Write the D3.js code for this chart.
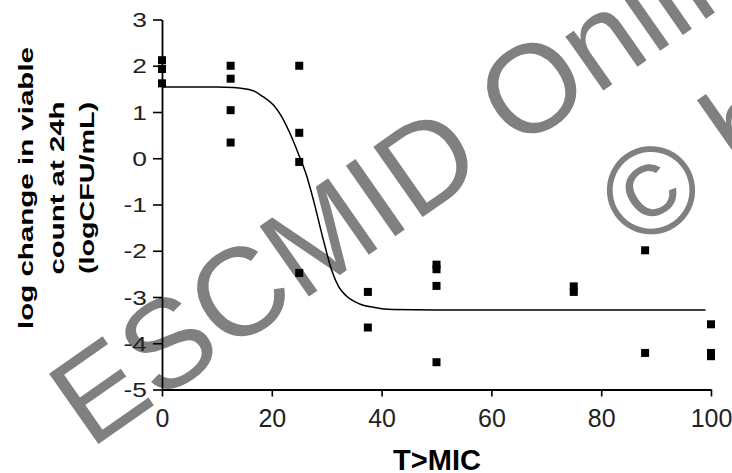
<!DOCTYPE html>
<html><head><meta charset="utf-8">
<script src="https://cdn.jsdelivr.net/npm/d3@7"></script>
<style>
html,body{margin:0;padding:0;background:#fff;}
svg{display:block;}
</style></head>
<body>
<svg id="chart" width="732" height="473"></svg>
<script>
// ---- data ----
const pointX = [0,0,0, 12.5,12.5,12.5,12.5, 25,25,25,25, 37.5,37.5, 50,50,50,50, 75,75, 88,88, 100,100,100];
const pointY = [2.12,1.93,1.62, 2.0,1.72,1.04,0.34, 2.0,0.55,-0.08,-2.48, -2.89,-3.66, -2.3,-2.4,-2.76,-4.41, -2.77,-2.89, -1.99,-4.21, -3.59,-4.21,-4.28];
const curveX = [0,10,13,16.6,18.4,20.3,21.8,23.3,24.8,26.4,27.6,29.4,30.9,32.2,33.6,36,38.5,42,50,99];
const curveY = [1.54,1.54,1.53,1.46,1.33,1.15,0.90,0.54,0.11,-0.40,-0.91,-1.77,-2.42,-2.78,-2.98,-3.15,-3.22,-3.27,-3.28,-3.28];
const xTicks = [0,20,40,60,80,100];
const yTicks = [3,2,1,0,-1,-2,-3,-4,-5];
const yTitleLines = ["log change in viable","count at 24h","(logCFU/mL)"];
const xTitle = "T>MIC";
const watermark1 = "ESCMID Online Lecture Library";
const watermark2 = "\u00A9 by author";

const svg = d3.select("#chart");
const x = d3.scaleLinear().domain([0,100]).range([162,711]);
const y = d3.scaleLinear().domain([-5,3]).range([389.5,19.5]);

// watermark (behind)
const wm = svg.append("g").attr("fill","#808080")
  .style("font-family","'Liberation Sans',Arial,sans-serif").style("font-size","125px");
wm.append("text").attr("transform","translate(90,450) rotate(-35)").text(watermark1);
wm.append("text").attr("transform","translate(638,252) rotate(-35)").text(watermark2);

// axes
const xAxis = svg.append("g").attr("transform",`translate(0,${y(-5)})`)
  .call(d3.axisBottom(x).tickValues(xTicks).tickSize(7).tickSizeOuter(0).tickFormat(d3.format("d")));
const yAxis = svg.append("g").attr("transform",`translate(${x(0)},0)`)
  .call(d3.axisLeft(y).tickValues(yTicks).tickSize(9).tickSizeOuter(0).tickFormat(d=>d<0?"-"+Math.abs(d):String(d)));
[xAxis,yAxis].forEach(a=>{
  a.selectAll("path.domain").attr("stroke","#000").attr("stroke-width",1.8);
  a.selectAll(".tick line").attr("stroke","#000").attr("stroke-width",1.6);
});
xAxis.selectAll(".tick text").attr("fill","#222").attr("y",0).attr("dy","37px")
  .style("font-family","'Liberation Sans',Arial,sans-serif").style("font-size","25px");
yAxis.selectAll(".tick text").attr("fill","#222").attr("x",0).attr("dy","0.36em")
  .attr("transform","translate(-15,0) scale(1.35,1)")
  .style("font-family","'Liberation Sans',Arial,sans-serif").style("font-size","19.5px");

// curve
const line = d3.line().x((d,i)=>x(curveX[i])).y((d,i)=>y(curveY[i])).curve(d3.curveMonotoneX);
svg.append("path").datum(curveX).attr("d",line).attr("fill","none").attr("stroke","#000").attr("stroke-width",1.5);

// points
const s = 8;
svg.append("g").selectAll("rect").data(pointX).join("rect")
  .attr("x",(d,i)=>x(d)-s/2).attr("y",(d,i)=>y(pointY[i])-s/2)
  .attr("width",s).attr("height",s).attr("fill","#000");

// titles
const tLens = [282,173,172];
const tBase = [33,64,94];
yTitleLines.forEach((t,i)=>{
  svg.append("text").attr("transform",`translate(${tBase[i]},188) rotate(-90)`)
    .attr("text-anchor","middle").attr("textLength",tLens[i]).attr("lengthAdjust","spacingAndGlyphs")
    .style("font-family","'Liberation Sans',Arial,sans-serif").style("font-size","21px").style("font-weight","bold")
    .text(t);
});
svg.append("text").attr("x",437).attr("y",470).attr("text-anchor","middle")
  .style("font-family","'Liberation Sans',Arial,sans-serif").style("font-size","29px").style("font-weight","bold")
  .text(xTitle);
</script>
</body></html>
